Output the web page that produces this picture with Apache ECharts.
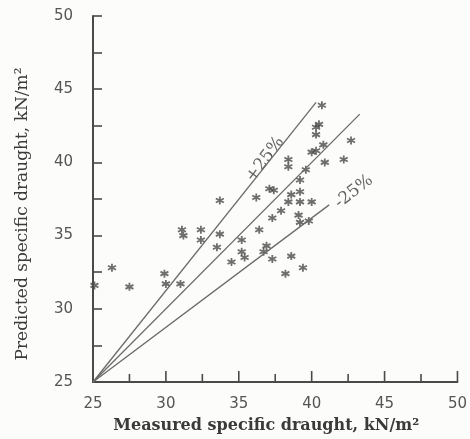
<!DOCTYPE html>
<html>
<head>
<meta charset="utf-8">
<script src="https://cdn.jsdelivr.net/npm/echarts@6/dist/echarts.min.js"></script>
<style>
  html, body { margin: 0; padding: 0; background: #fcfcfa; }
  #chart { width: 470px; height: 439px; }
</style>
</head>
<body>
<div id="chart"></div>
<script>
// measured vs predicted specific draught, kN/m2
var measured = [25.1, 26.3, 27.5, 29.9, 30.0, 31.0, 31.1, 31.2, 32.4, 32.4,
  33.7, 33.5, 33.7, 34.5, 35.2, 35.2, 35.4, 36.2, 37.1, 37.4,
  36.4, 36.9, 36.7, 37.3, 37.3, 37.9, 38.4, 38.6, 39.2, 39.2,
  40.0, 39.1, 39.8, 39.2, 38.6, 39.4, 38.2, 38.4, 38.4, 39.2,
  39.6, 40.0, 40.3, 40.8, 40.9, 42.2, 42.7, 40.3, 40.5, 40.3, 40.7];
var predicted = [31.6, 32.8, 31.5, 32.4, 31.7, 31.7, 35.4, 35.0, 35.4, 34.7,
  35.1, 34.2, 37.4, 33.2, 34.7, 33.9, 33.5, 37.6, 38.2, 38.1,
  35.4, 34.3, 33.9, 33.4, 36.2, 36.7, 37.3, 37.8, 38.0, 37.3,
  37.3, 36.4, 36.0, 35.9, 33.6, 32.8, 32.4, 40.2, 39.7, 38.8,
  39.5, 40.7, 40.8, 41.2, 40.0, 40.2, 41.5, 42.4, 42.6, 41.9, 43.9];

// reference lines: 1:1 and +/-25 %, start and end points
var lineEqual = [[25, 25], [43.3, 43.3]];
var linePlus = [[25, 25], [40.3, 44.1]];
var lineMinus = [[25, 25], [41.2, 37.1]];
var lineLabels = ["+25%", "-25%"];
var labelAt = [[36.8, 40.2], [42.9, 38.0]];

// x axis tick positions (major every 5, minor between)
var xTicks = [27.5, 30, 32.5, 35, 37.5, 40, 42.5, 45, 47.5, 50];

var points = measured.map(function (m, i) { return [m, predicted[i]]; });

var axisColor = "#4a4a48";
var asterisk = "path://M5 0L5 10M0.67 2.5L9.33 7.5M0.67 7.5L9.33 2.5";

// ticks every 2.5, labels only every 5
function fiveOnly(v) {
    return v % 5 === 0 ? String(v) : "";
}

function refLine(data) {
    return {
        type: "line",
        data: data,
        symbol: "none",
        silent: true,
        lineStyle: { color: "#6a6a68", width: 1.3 }
    };
}

// x ticks pointing up into the plot, one short line series each
var tickSeries = xTicks.map(function (v) {
    var h = v % 5 === 0 ? 0.75 : 0.55;
    return {
        type: "line",
        data: [[v, 25], [v, 25 + h]],
        symbol: "none",
        silent: true,
        clip: false,
        z: 5,
        lineStyle: { color: axisColor, width: 1.6 }
    };
});

var option = {
    backgroundColor: "#fcfcfa",
    animation: false,
    grid: { left: 93, right: 10, top: 16, bottom: 54 },
    xAxis: {
        type: "value",
        min: 25,
        max: 50,
        interval: 5,
        name: "Measured specific draught, kN/m²",
        nameLocation: "middle",
        nameGap: 36,
        nameTextStyle: { fontFamily: "DejaVu Serif", fontWeight: "bold", fontSize: 16, color: "#3a3a38", padding: [0, 18, 0, 0] },
        axisLine: { show: true, onZero: false, lineStyle: { color: axisColor, width: 2 } },
        axisTick: { show: false },
        axisLabel: { margin: 15, fontFamily: "DejaVu Sans", fontSize: 15, color: "#555" },
        splitLine: { show: false }
    },
    yAxis: {
        type: "value",
        min: 25,
        max: 50,
        interval: 2.5,
        name: "Predicted specific draught, kN/m²",
        nameLocation: "middle",
        nameGap: 62,
        nameTextStyle: { fontFamily: "DejaVu Serif", fontSize: 17, color: "#3a3a38", padding: [0, 30, 0, 0] },
        axisLine: { show: true, onZero: false, lineStyle: { color: axisColor, width: 2 } },
        axisTick: { show: true, inside: true, length: 9, lineStyle: { color: axisColor, width: 1.6 } },
        axisLabel: { margin: 20, fontFamily: "DejaVu Sans", fontSize: 15, color: "#555", formatter: fiveOnly },
        splitLine: { show: false }
    },
    series: [
        refLine(lineEqual),
        refLine(linePlus),
        refLine(lineMinus),
        {
            type: "scatter",
            data: points,
            symbol: asterisk,
            symbolSize: 8,
            itemStyle: { color: "rgba(0,0,0,0)", borderColor: "#4a4a4a", borderWidth: 1.8 }
        },
        {
            type: "scatter",
            symbolSize: 0,
            silent: true,
            data: [
                { value: labelAt[0], label: { formatter: lineLabels[0], rotate: 53 } },
                { value: labelAt[1], label: { formatter: lineLabels[1], rotate: 38 } }
            ],
            label: {
                show: true,
                position: "inside",
                fontFamily: "DejaVu Serif",
                fontSize: 17,
                color: "#3a3a38"
            }
        }
    ].concat(tickSeries)
};

echarts.init(document.getElementById("chart")).setOption(option);
</script>
</body>
</html>
